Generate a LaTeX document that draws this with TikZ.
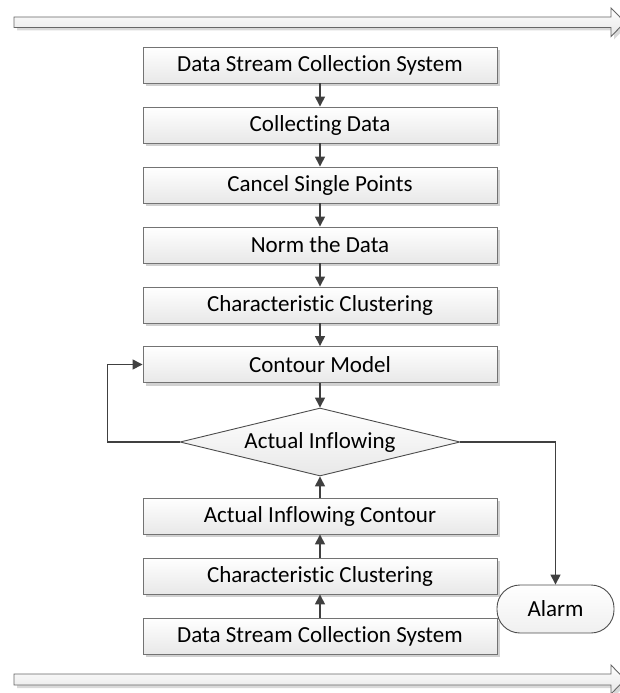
\documentclass[tikz,border=0pt]{standalone}
\usepackage{fontspec}
\setmainfont{Carlito}[RawFeature={-liga;-clig;-dlig;-calt}]
\usepackage{tikz}
\usetikzlibrary{arrows.meta,positioning,shapes.geometric,shadows}
\newcommand{\stagefont}{\fontsize{23}{27}\selectfont}

\begin{document}
\begin{tikzpicture}[x=1pt, y=1pt,
  stage/.style={
    draw=black!55, line width=0.9pt,
    top color=white, bottom color=black!9,
    minimum width=354pt, minimum height=36pt,
    inner sep=0pt, font=\stagefont,
    drop shadow={shadow xshift=3pt, shadow yshift=-3pt,
      opacity=0.18, fill=black}
  },
  decide/.style={
    diamond, aspect=4.1, draw=black!70, line width=0.9pt,
    top color=white, bottom color=black!9,
    minimum width=280pt, minimum height=68pt,
    inner sep=0pt, font=\stagefont
  },
  terminal/.style={
    draw=black!70, line width=0.9pt, rounded corners=23pt,
    top color=white, bottom color=black!6,
    minimum width=117pt, minimum height=48pt,
    inner sep=0pt, font=\stagefont
  },
  flow/.style={-{Triangle[length=10pt, width=10pt]},
    line width=1.4pt, black!75},
  band/.style={draw=black!60, line width=0.9pt,
    top color=white, bottom color=black!10,
    drop shadow={shadow xshift=3pt, shadow yshift=-3pt,
      opacity=0.15, fill=black}}]

\useasboundingbox (0,0) rectangle (619,-693);

% Time bands, top and bottom
\path[band] (14,-17) -- (611,-17) -- (611,-8) -- (625,-22.2)
  -- (611,-36.5) -- (611,-27.5) -- (14,-27.5) -- cycle;
\path[band] (14,-674) -- (611,-674) -- (611,-665) -- (625,-679.5)
  -- (611,-694) -- (611,-685) -- (14,-685) -- cycle;

% Upper chain: model building
\node[stage] (dsc1) at (320,-65)  {Data Stream Collection System};
\node[stage] (coll) at (320,-125) {Collecting Data};
\node[stage] (cancel) at (320,-185) {Cancel Single Points};
\node[stage] (norm) at (320,-245) {Norm the Data};
\node[stage] (clus1) at (320,-305) {Characteristic Clustering};
\node[stage] (model) at (320,-364.5) {Contour Model};

% Decision
\node[decide] (inflow) at (320,-442) {Actual Inflowing};

% Lower chain: live data, flowing upward
\node[stage] (contour) at (320,-516) {Actual Inflowing Contour};
\node[stage] (clus2) at (320,-576) {Characteristic Clustering};
\node[stage] (dsc2) at (320,-636) {Data Stream Collection System};

\node[terminal] (alarm) at (555.5,-609) {Alarm};

% Downward arrows
\draw[flow] (dsc1.south) -- (coll.north);
\draw[flow] (coll.south) -- (cancel.north);
\draw[flow] (cancel.south) -- (norm.north);
\draw[flow] (norm.south) -- (clus1.north);
\draw[flow] (clus1.south) -- (model.north);
\draw[flow] (model.south) -- (inflow.north);

% Upward arrows
\draw[flow] (dsc2.north) -- (clus2.south);
\draw[flow] (clus2.north) -- (contour.south);
\draw[flow] (contour.north) -- (inflow.south);

% Feedback loop and alarm branch
\draw[flow] (inflow.west) -- ([xshift=-35pt]model.west |- inflow.west)
  |- (model.west);
\draw[flow] (inflow.east) -| (alarm.north);

\end{tikzpicture}
\end{document}
